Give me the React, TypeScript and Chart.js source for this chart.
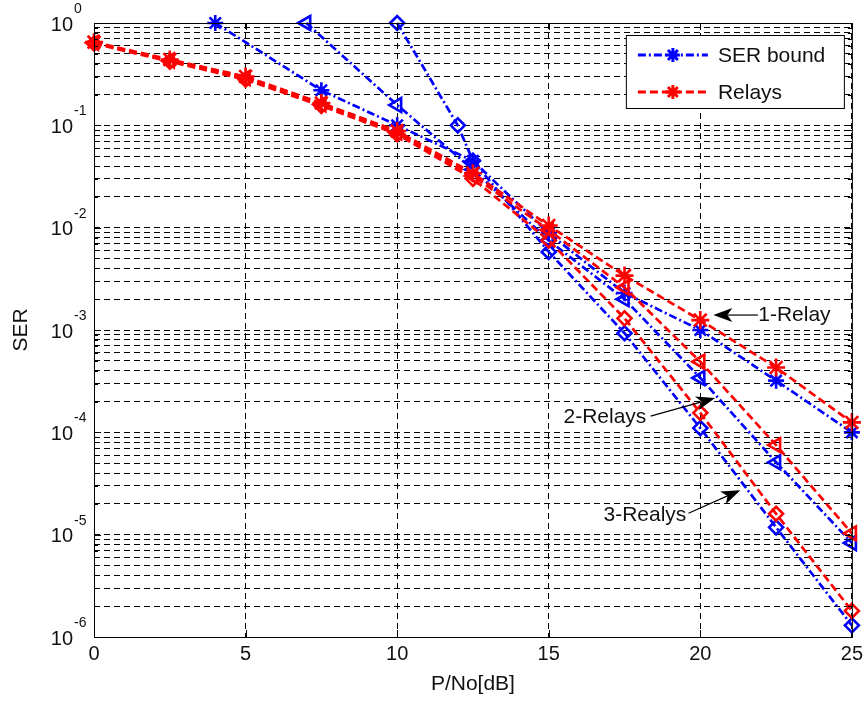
import React, { useEffect, useRef } from 'react';
import { Chart, registerables } from 'chart.js';
Chart.register(...registerables);

// ---------- data ----------
const snrSim = [0, 2.5, 5, 7.5, 10, 12.5, 15, 17.5, 20, 22.5, 25];
const serRelay1 = [0.65, 0.44, 0.3, 0.165, 0.088, 0.034, 0.0105, 0.0034, 0.00125, 0.00043, 0.000125];
const serRelay2 = [0.64, 0.43, 0.29, 0.16, 0.085, 0.032, 0.0095, 0.0026, 0.00049, 0.000075, 0.0000103];
const serRelay3 = [0.63, 0.42, 0.28, 0.155, 0.082, 0.03, 0.0075, 0.0013, 0.000155, 0.000016, 0.0000018];

const snrBound1 = [4, 7.5, 10, 12.5, 15, 17.5, 20, 22.5, 25];
const serBound1 = [1, 0.22, 0.1, 0.045, 0.0088, 0.0023, 0.001, 0.00032, 0.0001];
const snrBound2 = [7, 10, 12.5, 15, 17.5, 20, 22.5, 25];
const serBound2 = [1, 0.158, 0.037, 0.0075, 0.002, 0.00034, 0.000051, 0.0000083];
const snrBound3 = [10, 12, 12.5, 15, 17.5, 20, 22.5, 25];
const serBound3 = [1, 0.1, 0.045, 0.0058, 0.00093, 0.00011, 0.0000118, 0.0000013];

const xTickValues = [0, 5, 10, 15, 20, 25];
const yDecades = [0, -1, -2, -3, -4, -5, -6];
const legendLabels = ['SER bound', 'Relays'];
const xTitle = 'P/No[dB]';
const yTitle = 'SER';

const annotationTexts = ['1-Relay', '2-Relays', '3-Realys'];
const annotationTextX = [21.91, 18.22, 19.54];
const annotationTextY = [1.4e-3, 1.41e-4, 1.55e-5];
const annotationAlign = ['left', 'right', 'right'];
const arrowTailX = [21.9, 18.36, 19.61];
const arrowTailY = [1.4e-3, 1.44e-4, 1.62e-5];
const arrowHeadX = [20.43, 20.49, 21.32];
const arrowHeadY = [1.4e-3, 2.16e-4, 2.72e-5];

// ---------- styles ----------
const FONT = '"Liberation Sans", Arial, Helvetica, sans-serif';
const BLUE = '#0000ff';
const RED = '#ff0000';
const BLUE_DASH = [8, 3, 2, 3];
const RED_DASH = [8, 4];

const yGridValues: number[] = [];
for (const e of yDecades) {
  if (e === 0) { yGridValues.push(1); continue; }
  for (let m = 1; m <= 9; m++) yGridValues.push(m * Math.pow(10, e));
}

function toPts(xs: number[], ys: number[]) {
  return xs.map((x, i) => ({ x, y: ys[i] }));
}

function drawStar(ctx: CanvasRenderingContext2D, x: number, y: number, r: number) {
  ctx.beginPath();
  ctx.moveTo(x - r, y); ctx.lineTo(x + r, y);
  ctx.moveTo(x, y - r); ctx.lineTo(x, y + r);
  const d = r * Math.SQRT1_2;
  ctx.moveTo(x - d, y - d); ctx.lineTo(x + d, y + d);
  ctx.moveTo(x - d, y + d); ctx.lineTo(x + d, y - d);
  ctx.stroke();
}

function drawArrow(ctx: CanvasRenderingContext2D, x1: number, y1: number, x2: number, y2: number) {
  const dx = x2 - x1, dy = y2 - y1;
  const len = Math.hypot(dx, dy);
  const ux = dx / len, uy = dy / len;
  const nx = -uy, ny = ux;
  const L = 19, W = 7, notch = 5;
  ctx.beginPath();
  ctx.moveTo(x1, y1);
  ctx.lineTo(x2 - ux * (L - notch), y2 - uy * (L - notch));
  ctx.stroke();
  ctx.beginPath();
  ctx.moveTo(x2, y2);
  ctx.lineTo(x2 - ux * L + nx * W, y2 - uy * L + ny * W);
  ctx.lineTo(x2 - ux * (L - notch), y2 - uy * (L - notch));
  ctx.lineTo(x2 - ux * L - nx * W, y2 - uy * L - ny * W);
  ctx.closePath();
  ctx.fill();
}

const decorPlugin = {
  id: 'decor',
  afterDraw(chart: any) {
    const { ctx, chartArea: a, scales } = chart;
    const xs = scales.x, ys = scales.y;
    ctx.save();
    ctx.setLineDash([]);
    ctx.strokeStyle = '#000';
    ctx.fillStyle = '#111';
    ctx.lineWidth = 1;

    // box
    ctx.strokeRect(a.left + 0.5, a.top + 0.5, a.right - a.left, a.bottom - a.top);

    // tick marks (inside)
    ctx.beginPath();
    for (const v of xTickValues) {
      const px = Math.round(xs.getPixelForValue(v)) + 0.5;
      ctx.moveTo(px, a.bottom); ctx.lineTo(px, a.bottom - 7);
      ctx.moveTo(px, a.top); ctx.lineTo(px, a.top + 7);
    }
    for (const v of yGridValues) {
      const py = Math.round(ys.getPixelForValue(v)) + 0.5;
      const major = Math.abs(Math.log10(v) - Math.round(Math.log10(v))) < 1e-9;
      const l = major ? 7 : 4;
      ctx.moveTo(a.left, py); ctx.lineTo(a.left + l, py);
      ctx.moveTo(a.right, py); ctx.lineTo(a.right - l, py);
    }
    ctx.stroke();

    // y tick labels 10^e
    for (const e of yDecades) {
      const py = ys.getPixelForValue(Math.pow(10, e));
      ctx.font = `20px ${FONT}`;
      ctx.textAlign = 'right';
      ctx.textBaseline = 'alphabetic';
      ctx.fillText('10', 73, py + 7.5);
      ctx.font = `14px ${FONT}`;
      ctx.textAlign = 'left';
      ctx.fillText(e === 0 ? '0' : String(e), 74, py - 10);
    }

    // axis titles
    ctx.font = `21px ${FONT}`;
    ctx.textAlign = 'center';
    ctx.textBaseline = 'middle';
    ctx.fillText(xTitle, (a.left + a.right) / 2, 684);
    ctx.save();
    ctx.translate(21, (a.top + a.bottom) / 2);
    ctx.rotate(-Math.PI / 2);
    ctx.fillText(yTitle, 0, 0);
    ctx.restore();

    // annotations
    ctx.font = `21px ${FONT}`;
    ctx.textBaseline = 'middle';
    ctx.strokeStyle = '#000';
    ctx.fillStyle = '#000';
    ctx.lineWidth = 1.2;
    annotationTexts.forEach((t, i) => {
      const tx = xs.getPixelForValue(annotationTextX[i]);
      const ty = ys.getPixelForValue(annotationTextY[i]);
      ctx.textAlign = annotationAlign[i] as CanvasTextAlign;
      ctx.fillStyle = '#111';
      ctx.fillText(t, tx, ty);
      ctx.fillStyle = '#000';
      drawArrow(
        ctx,
        xs.getPixelForValue(arrowTailX[i]), ys.getPixelForValue(arrowTailY[i]),
        xs.getPixelForValue(arrowHeadX[i]), ys.getPixelForValue(arrowHeadY[i])
      );
    });

    // legend
    const lx = a.right - 226, ly = a.top + 12, lw = 218, lh = 73;
    ctx.fillStyle = '#fff';
    ctx.fillRect(lx, ly, lw, lh);
    ctx.strokeStyle = '#000';
    ctx.lineWidth = 1;
    ctx.strokeRect(lx + 0.5, ly + 0.5, lw, lh);
    const entries = [
      { label: legendLabels[0], color: BLUE, dash: BLUE_DASH, y: ly + 20 },
      { label: legendLabels[1], color: RED, dash: RED_DASH, y: ly + 57 },
    ];
    for (const en of entries) {
      ctx.strokeStyle = en.color;
      ctx.lineWidth = 2.8;
      ctx.setLineDash(en.dash);
      ctx.beginPath();
      ctx.moveTo(lx + 12, en.y); ctx.lineTo(lx + 82, en.y);
      ctx.stroke();
      ctx.setLineDash([]);
      ctx.lineWidth = 3;
      drawStar(ctx, lx + 47, en.y, 7);
      ctx.fillStyle = '#111';
      ctx.font = `21px ${FONT}`;
      ctx.textAlign = 'left';
      ctx.textBaseline = 'middle';
      ctx.fillText(en.label, lx + 92, en.y + 1);
    }
    ctx.restore();
  },
};

function ds(label: string, pts: any[], color: string, dash: number[], style: string, radius: number, rotation = 0) {
  return {
    label,
    data: pts,
    borderColor: color,
    backgroundColor: 'transparent',
    borderWidth: 2.7,
    borderDash: dash,
    pointStyle: style,
    pointRadius: radius,
    pointBorderWidth: 2.6,
    pointBorderColor: color,
    pointBackgroundColor: 'transparent',
    pointRotation: rotation,
    showLine: true,
    fill: false,
    tension: 0,
    clip: false,
  };
}

export default function App() {
  const ref = useRef<HTMLCanvasElement | null>(null);
  useEffect(() => {
    if (!ref.current) return;
    const gridCommon = { color: '#000', lineWidth: 1, drawTicks: false };
    const chart = new Chart(ref.current, {
      type: 'scatter',
      data: {
        datasets: [
          ds('Relays 1', toPts(snrSim, serRelay1), RED, RED_DASH, 'star', 9),
          ds('Relays 2', toPts(snrSim, serRelay2), RED, RED_DASH, 'triangle', 8, -90),
          ds('Relays 3', toPts(snrSim, serRelay3), RED, RED_DASH, 'rectRot', 7),
          ds('SER bound 1', toPts(snrBound1, serBound1), BLUE, BLUE_DASH, 'star', 8),
          ds('SER bound 2', toPts(snrBound2, serBound2), BLUE, BLUE_DASH, 'triangle', 8, -90),
          ds('SER bound 3', toPts(snrBound3, serBound3), BLUE, BLUE_DASH, 'rectRot', 7),
        ] as any,
      },
      options: {
        animation: false,
        responsive: false,
        devicePixelRatio: 1,
        layout: { padding: { left: 0, top: 23, right: 14, bottom: 0 } },
        plugins: { legend: { display: false }, tooltip: { enabled: false } },
        scales: {
          x: {
            type: 'linear',
            min: 0,
            max: 25,
            afterBuildTicks: (s: any) => { s.ticks = xTickValues.map((v) => ({ value: v })); },
            afterFit: (s: any) => { s.height = 67; },
            ticks: { font: { family: FONT, size: 20 }, color: '#111', padding: 5, maxRotation: 0 },
            grid: gridCommon,
            border: { display: false, dash: [6, 4] },
          },
          y: {
            type: 'logarithmic',
            min: 1e-6,
            max: 1,
            afterBuildTicks: (s: any) => { s.ticks = yGridValues.map((v) => ({ value: v })); },
            afterFit: (s: any) => { s.width = 94; },
            ticks: { display: false },
            grid: gridCommon,
            border: { display: false, dash: [6, 4] },
          },
        },
      } as any,
      plugins: [decorPlugin],
    });
    return () => chart.destroy();
  }, []);
  return (
    <div style={{ position: 'fixed', left: 0, top: 0, width: 868, height: 704, background: '#fff' }}>
      <canvas ref={ref} width={868} height={704} style={{ display: 'block' }} />
    </div>
  );
}
